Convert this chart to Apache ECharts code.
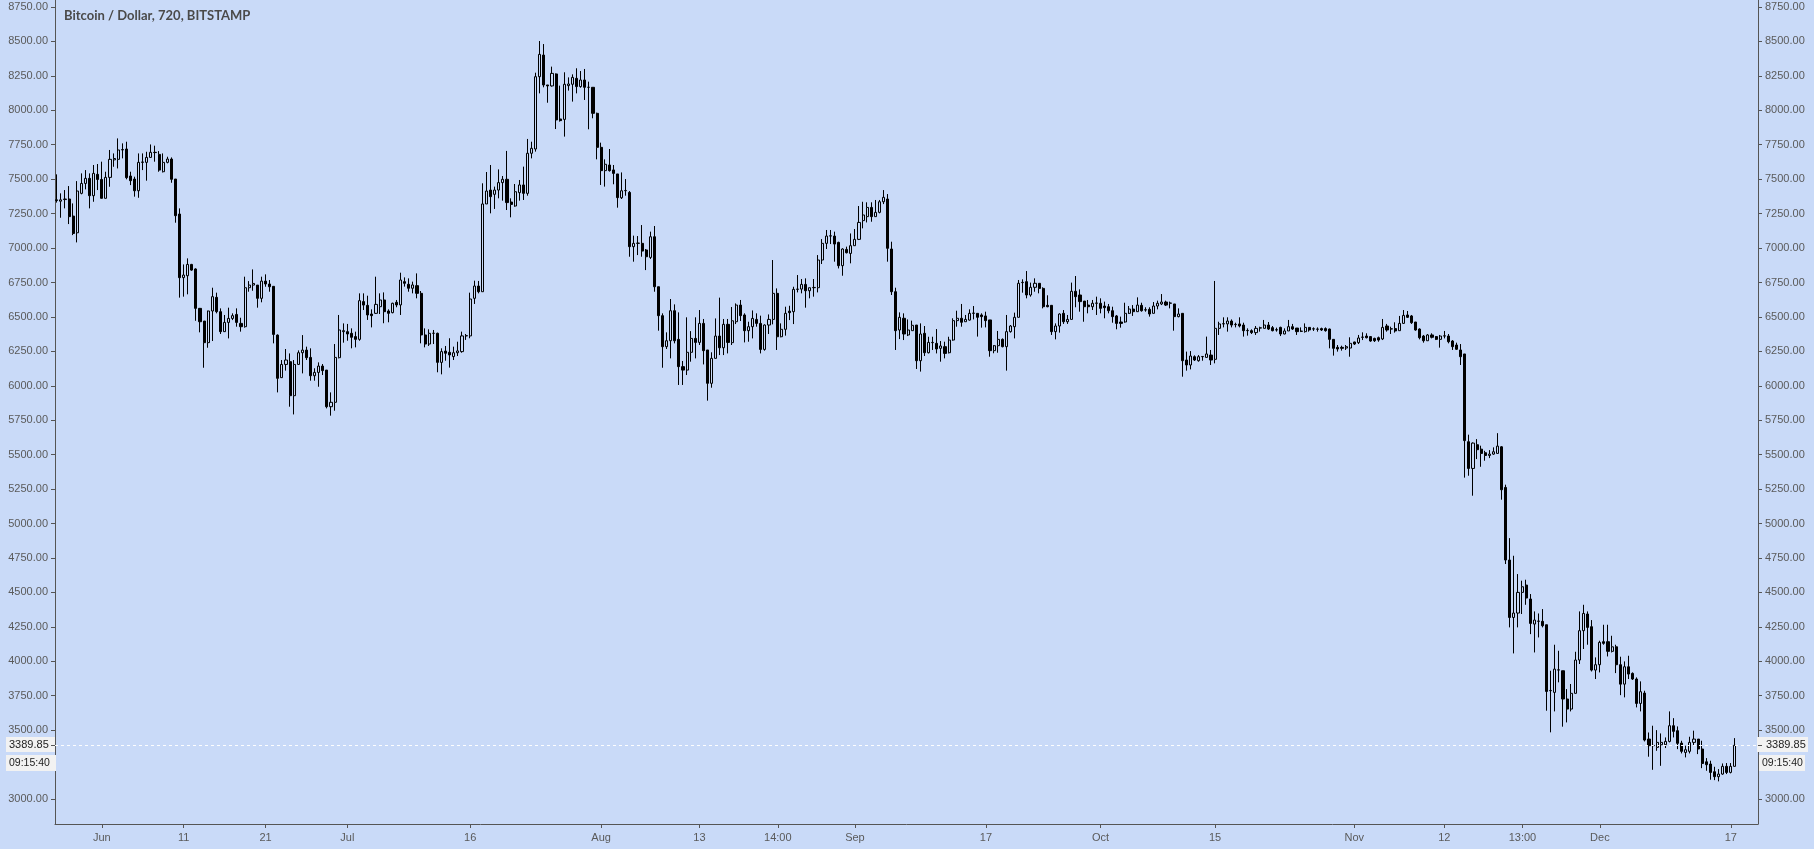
<!DOCTYPE html>
<html><head><meta charset="utf-8">
<script src="https://cdn.jsdelivr.net/npm/echarts@6/dist/echarts.min.js"></script>
<style>html,body{margin:0;padding:0;background:#c9daf8;}#c{width:1814px;height:849px;}</style>
</head><body><div id="c"></div>
<script>
const chartTitle = 'Bitcoin / Dollar, 720, BITSTAMP';
const startTime = Date.UTC(2018, 4, 26, 12);   // first 12h candle
const stepMs = 12 * 3600 * 1000;
const lastPrice = 3389.85;
const countdown = '09:15:40';

const opens = [
7350,7340,7352,7356,7232,7111,7397,7469,7506,7380,
7535,7498,7361,7513,7640,7644,7712,7719,7523,7501,
7416,7622,7622,7658,7695,7680,7554,7622,7646,7501,
7247,6785,6799,6881,6848,6562,6470,6313,6543,6642,
6538,6393,6460,6489,6518,6453,6429,6712,6731,6731,
6635,6760,6739,6722,6368,6059,6155,6175,5928,6155,
6240,6259,6206,6073,6097,6143,6114,5848,5880,6204,
6393,6393,6381,6357,6337,6611,6584,6521,6526,6574,
6623,6543,6531,6606,6587,6756,6737,6708,6727,6671,
6369,6303,6381,6381,6170,6252,6243,6212,6240,6248,
6362,6362,6635,6724,6683,7320,7421,7390,7421,7475,
7499,7334,7305,7402,7458,7397,7688,7719,8244,8401,
8184,8177,8264,7937,7934,8179,8189,8232,8172,8220,
8167,8167,7978,7731,7562,7603,7567,7538,7365,7416,
7404,7010,7034,7034,6986,6932,7082,6719,6509,6284,
6327,6545,6337,6139,6114,6243,6344,6315,6453,6260,
6018,6199,6361,6276,6446,6313,6465,6586,6514,6400,
6429,6482,6453,6264,6441,6482,6671,6356,6410,6542,
6538,6700,6702,6736,6690,6712,6712,6913,7034,7087,
7087,7041,6872,6990,6961,7017,7063,7199,7228,7295,
7228,7259,7336,7356,6993,6683,6405,6490,6369,6400,
6441,6182,6381,6240,6313,6308,6272,6284,6240,6332,
6473,6490,6465,6477,6526,6526,6514,6507,6478,6255,
6291,6337,6284,6393,6429,6497,6749,6756,6659,6715,
6744,6707,6584,6584,6393,6434,6526,6465,6482,6686,
6659,6615,6586,6574,6599,6599,6579,6574,6545,6507,
6463,6463,6526,6557,6538,6584,6550,6555,6526,6579,
6594,6608,6599,6594,6502,6526,6187,6151,6211,6182,
6211,6206,6223,6192,6417,6449,6449,6470,6444,6449,
6441,6400,6400,6386,6419,6417,6441,6422,6407,6424,
6376,6398,6429,6419,6395,6393,6424,6412,6410,6415,
6415,6412,6337,6279,6279,6274,6274,6318,6313,6352,
6361,6357,6344,6349,6340,6434,6412,6415,6400,6453,
6514,6507,6463,6412,6361,6327,6369,6357,6337,6361,
6361,6325,6296,6260,6231,5594,5400,5572,5540,5514,
5494,5504,5509,5557,5262,4735,4318,4350,4500,4553,
4452,4270,4290,4290,4265,3786,3774,3936,3931,3726,
3653,3767,4009,4222,4343,4251,3936,3975,4142,4142,
4072,4105,3975,3834,3960,3912,3871,3694,3769,3435,
3387,3375,3394,3394,3418,3532,3496,3406,3338,3346,
3411,3435,3363,3270,3254,3198,3162,3181,3237,3193,
3237];

const highs = [
7535,7397,7421,7450,7324,7486,7542,7566,7542,7603,
7610,7627,7554,7712,7687,7796,7760,7772,7554,7518,
7687,7687,7699,7752,7743,7704,7687,7663,7658,7501,
7288,6881,6925,6885,6853,6565,6470,6545,6712,6676,
6562,6514,6567,6526,6562,6494,6792,6760,6845,6731,
6792,6809,6768,6722,6373,6187,6267,6235,6187,6257,
6368,6284,6272,6127,6170,6158,6114,5952,6303,6514,
6453,6449,6417,6393,6671,6671,6654,6555,6792,6671,
6678,6555,6603,6623,6821,6787,6780,6756,6816,6688,
6417,6410,6405,6386,6272,6289,6345,6284,6320,6393,
6376,6676,6763,6761,7470,7552,7603,7446,7571,7523,
7705,7361,7465,7494,7591,7792,7772,8273,8503,8481,
8184,8317,8268,8179,8276,8239,8261,8305,8285,8300,
8208,8167,7983,7765,7644,7719,7603,7538,7549,7501,
7414,7090,7087,7167,6993,7119,7160,6719,6526,6388,
6630,6591,6533,6180,6497,6397,6497,6550,6485,6260,
6243,6489,6640,6485,6485,6572,6598,6623,6526,6465,
6547,6526,6509,6446,6518,6913,6707,6453,6574,6581,
6719,6804,6775,6780,6712,6775,6949,7065,7131,7131,
7119,7046,6998,7010,7106,7138,7305,7336,7332,7332,
7349,7349,7421,7392,7046,6712,6533,6526,6482,6473,
6441,6453,6434,6356,6356,6412,6325,6320,6356,6490,
6545,6594,6514,6555,6579,6526,6526,6538,6478,6296,
6398,6344,6514,6441,6531,6768,6773,6833,6749,6780,
6744,6715,6657,6586,6453,6526,6550,6514,6749,6797,
6700,6615,6623,6623,6647,6635,6611,6594,6574,6514,
6502,6603,6579,6586,6642,6603,6570,6570,6608,6618,
6666,6618,6611,6594,6562,6526,6248,6252,6221,6223,
6216,6357,6260,6761,6465,6497,6497,6482,6458,6497,
6458,6417,6410,6434,6429,6478,6463,6434,6422,6429,
6417,6478,6449,6419,6424,6453,6424,6424,6424,6422,
6424,6415,6337,6296,6291,6296,6352,6320,6369,6388,
6381,6361,6349,6357,6485,6449,6429,6461,6507,6550,
6543,6514,6463,6417,6369,6376,6381,6361,6369,6398,
6376,6332,6313,6303,6231,5645,5589,5613,5565,5528,
5533,5553,5656,5562,5282,4894,4766,4633,4585,4592,
4488,4362,4347,4379,4265,3931,4120,4076,3931,3798,
3835,4069,4362,4410,4362,4299,4028,4149,4265,4265,
4185,4120,4033,3999,4040,3919,3883,3854,3786,3483,
3532,3500,3476,3447,3636,3587,3527,3423,3387,3452,
3496,3435,3423,3297,3278,3234,3217,3258,3261,3261,
3442];

const lows = [
7330,7220,7288,7174,7094,7041,7390,7426,7288,7336,
7421,7361,7361,7445,7590,7578,7651,7499,7457,7373,
7365,7566,7489,7658,7627,7554,7549,7615,7474,7184,
6640,6647,6664,6835,6472,6388,6131,6276,6325,6526,
6376,6393,6344,6477,6429,6393,6422,6683,6690,6567,
6606,6719,6683,6308,5952,6059,6110,5848,5792,6151,
6090,6187,6037,6037,5993,6078,5836,5783,5819,6199,
6313,6327,6272,6279,6327,6550,6478,6424,6521,6521,
6454,6461,6526,6570,6514,6720,6683,6671,6635,6308,
6279,6289,6303,6098,6083,6182,6132,6187,6216,6240,
6333,6345,6594,6671,6683,7320,7252,7284,7361,7344,
7276,7223,7300,7344,7349,7380,7651,7700,8123,8167,
8055,8172,7864,7918,7809,8143,8063,8123,8164,8075,
7862,7942,7644,7458,7446,7555,7463,7293,7356,7380,
6937,6901,6949,6937,6840,6920,6683,6400,6131,6267,
6199,6308,6006,6006,6078,6175,6199,6296,6155,5892,
5986,6199,6223,6223,6235,6296,6448,6470,6315,6320,
6344,6429,6235,6255,6376,6446,6260,6352,6364,6477,
6448,6678,6671,6567,6635,6647,6678,6884,6993,7029,
6901,6852,6799,6961,6889,7017,7058,7143,7186,7191,
7228,7252,7319,6901,6659,6260,6339,6332,6361,6400,
6122,6103,6216,6235,6260,6235,6175,6199,6235,6327,
6429,6429,6465,6473,6482,6357,6422,6424,6211,6236,
6240,6279,6110,6386,6344,6497,6676,6635,6647,6683,
6671,6562,6570,6369,6337,6386,6449,6449,6482,6570,
6538,6465,6526,6550,6514,6526,6490,6526,6458,6410,
6422,6458,6521,6507,6538,6538,6538,6502,6526,6555,
6586,6579,6562,6400,6497,6066,6110,6119,6180,6175,
6182,6206,6151,6163,6369,6424,6393,6424,6424,6424,
6357,6364,6376,6369,6393,6417,6405,6395,6393,6361,
6374,6398,6405,6369,6390,6386,6393,6398,6393,6398,
6393,6272,6219,6248,6255,6260,6211,6296,6303,6332,
6344,6320,6318,6320,6332,6393,6376,6386,6400,6449,
6492,6449,6400,6337,6313,6327,6344,6332,6277,6344,
6308,6260,6260,6151,5333,5347,5202,5468,5412,5456,
5475,5499,5509,5173,4706,4246,4057,4246,4343,4410,
4197,4064,4173,4246,3641,3484,3636,3847,3525,3556,
3636,3767,3980,4089,4120,3926,3871,3919,4120,4035,
4064,3914,3754,3738,3871,3864,3665,3636,3418,3307,
3212,3350,3241,3370,3411,3447,3362,3331,3302,3331,
3387,3326,3224,3205,3140,3137,3128,3176,3181,3186,
3237];

const closes = [
7345,7350,7356,7228,7106,7414,7469,7506,7380,7542,
7498,7361,7513,7644,7650,7712,7715,7511,7489,7416,
7622,7625,7658,7695,7693,7566,7622,7646,7499,7235,
6785,6804,6881,6840,6562,6465,6313,6543,6647,6538,
6393,6460,6489,6509,6460,6429,6712,6731,6743,6635,
6760,6739,6719,6373,6054,6155,6187,5928,6155,6240,
6259,6204,6073,6097,6143,6110,5848,5880,6206,6405,
6400,6376,6352,6337,6618,6586,6514,6509,6591,6623,
6538,6526,6599,6587,6768,6744,6708,6732,6671,6369,
6303,6381,6381,6170,6248,6236,6224,6240,6253,6362,
6364,6630,6724,6683,7320,7414,7373,7421,7475,7499,
7330,7317,7409,7458,7397,7688,7724,8244,8406,8184,
8177,8268,7930,7925,8189,8191,8239,8172,8220,8167,
8167,7978,7731,7562,7608,7562,7542,7366,7416,7418,
7010,7034,7036,6978,6937,7082,6719,6509,6284,6327,
6545,6327,6139,6114,6243,6344,6315,6453,6255,6018,
6199,6361,6276,6446,6315,6472,6586,6509,6400,6429,
6489,6453,6264,6441,6482,6671,6356,6410,6526,6531,
6700,6702,6736,6690,6712,6714,6913,7034,7087,7089,
7029,6872,6993,6966,7017,7063,7186,7240,7295,7228,
7259,7336,7368,6998,6683,6400,6497,6376,6405,6439,
6182,6376,6240,6315,6315,6267,6289,6235,6332,6473,
6490,6461,6482,6526,6528,6497,6502,6473,6255,6291,
6337,6284,6393,6434,6497,6744,6751,6659,6715,6744,
6707,6574,6574,6393,6434,6521,6465,6482,6686,6647,
6611,6574,6574,6599,6601,6562,6567,6545,6502,6453,
6453,6526,6557,6538,6586,6545,6552,6521,6579,6599,
6608,6586,6601,6502,6521,6182,6151,6216,6187,6211,
6213,6231,6187,6417,6449,6451,6470,6441,6446,6434,
6400,6402,6386,6417,6421,6441,6412,6400,6405,6376,
6398,6429,6412,6393,6397,6424,6405,6414,6412,6405,
6400,6337,6272,6267,6272,6284,6308,6303,6347,6354,
6349,6325,6327,6332,6424,6405,6414,6398,6453,6511,
6497,6458,6405,6349,6327,6369,6352,6337,6361,6363,
6320,6284,6265,6211,5602,5400,5584,5536,5509,5494,
5504,5521,5562,5245,4735,4318,4350,4500,4541,4459,
4275,4299,4292,4258,3781,3788,3943,3938,3726,3653,
3767,4009,4222,4347,4246,3936,3975,4137,4130,4072,
4105,3975,3834,3960,3907,3871,3694,3779,3428,3387,
3389,3411,3411,3418,3532,3491,3404,3346,3358,3411,
3435,3363,3258,3249,3193,3162,3181,3237,3193,3237,
3389.85];

const yTicks = [3000,3250,3500,3750,4000,4250,4500,4750,5000,5250,5500,5750,
  6000,6250,6500,6750,7000,7250,7500,7750,8000,8250,8500,8750];

const xTickTimes = [
  Date.UTC(2018,5,1), Date.UTC(2018,5,11), Date.UTC(2018,5,21), Date.UTC(2018,6,1),
  Date.UTC(2018,6,16), Date.UTC(2018,7,1), Date.UTC(2018,7,13), Date.UTC(2018,7,22,14),
  Date.UTC(2018,8,1), Date.UTC(2018,8,17), Date.UTC(2018,9,1), Date.UTC(2018,9,15),
  Date.UTC(2018,10,1), Date.UTC(2018,10,12), Date.UTC(2018,10,21,13), Date.UTC(2018,11,1),
  Date.UTC(2018,11,17)];
const xTickLabels = ['Jun','11','21','Jul','16','Aug','13','14:00','Sep','17','Oct','15',
  'Nov','12','13:00','Dec','17'];

const DAY = 86400000;
const xMin = Date.UTC(2018,5,1) - 5.717 * DAY;
const xMax = Date.UTC(2018,5,1) + 202.32 * DAY;
const yMin = 2818.5, yMax = 8800.8;

const candles = opens.map((o, i) => [startTime + i * stepMs, o, closes[i], lows[i], highs[i]]);
const labelMap = {};
xTickTimes.forEach((t, i) => { labelMap[t] = xTickLabels[i]; });

const BG = '#c9daf8';
const AX = '#555555';
const FONT = "'Liberation Sans', Arial, sans-serif";
const yAxisBase = (pos) => ({
  type: 'value', position: pos, min: yMin, max: yMax,
  axisLine: { show: true, onZero: false, lineStyle: { color: AX, width: 1 } },
  axisTick: { show: true, length: 4, customValues: yTicks, lineStyle: { color: AX } },
  axisLabel: { customValues: yTicks, formatter: v => Number(v).toFixed(2), color: '#5a5a5a',
    fontSize: 11, fontFamily: FONT, margin: 7, showMinLabel: true, showMaxLabel: true },
  splitLine: { show: false }
});

const chart = echarts.init(document.getElementById('c'), null, { renderer: 'canvas' });
chart.setOption({
  backgroundColor: BG,
  animation: false,
  title: { text: chartTitle, left: 64, top: 9, padding: 0,
    textStyle: { fontSize: 13, fontWeight: 'bold', color: '#4a4a4a', fontFamily: 'Lato, sans-serif' } },
  grid: { left: 55, right: 56, top: 0, bottom: 25, containLabel: false },
  xAxis: {
    type: 'value', min: xMin, max: xMax,
    axisLine: { show: true, onZero: false, lineStyle: { color: AX, width: 1 } },
    axisTick: { show: true, length: 4, customValues: xTickTimes, lineStyle: { color: AX } },
    axisLabel: { customValues: xTickTimes, formatter: v => labelMap[v] || '', color: '#5a5a5a',
      fontSize: 11, fontFamily: FONT, margin: 8, showMinLabel: true, showMaxLabel: true,
      hideOverlap: false },
    splitLine: { show: false }
  },
  yAxis: [yAxisBase('left'), yAxisBase('right')],
  series: [{
    type: 'candlestick',
    data: candles,
    encode: { x: 0, y: [1, 2, 3, 4] },
    barWidth: 2.6,
    clip: true,
    itemStyle: { color: BG, color0: '#000', borderColor: '#000', borderColor0: '#000', borderWidth: 1 },
    emphasis: { disabled: true },
    markLine: {
      silent: true, symbol: 'none', animation: false,
      label: { show: false },
      lineStyle: { color: '#ffffff', type: [3, 3], width: 1, opacity: 0.95 },
      data: [{ yAxis: lastPrice }]
    }
  }]
});

const py = Math.round(chart.convertToPixel({ yAxisIndex: 0 }, lastPrice));
const boxFont = "11px 'Liberation Sans', Arial, sans-serif";
const cdFont = "10.5px 'Liberation Sans', Arial, sans-serif";
chart.setOption({
  graphic: [
    { type: 'rect', shape: { x: 6, y: py - 8, width: 49, height: 15 }, style: { fill: '#f2f2f2' }, z: 100 },
    { type: 'text', x: 9, y: py, style: { text: lastPrice.toFixed(2), font: boxFont, fill: '#222', verticalAlign: 'middle' }, z: 101 },
    { type: 'line', shape: { x1: 51, y1: py + 0.5, x2: 55, y2: py + 0.5 }, style: { stroke: '#555', lineWidth: 1 }, z: 101 },
    { type: 'rect', shape: { x: 6, y: py + 10, width: 50, height: 16 }, style: { fill: '#f2f2f2' }, z: 100 },
    { type: 'text', x: 9, y: py + 18, style: { text: countdown, font: cdFont, fill: '#222', verticalAlign: 'middle' }, z: 101 },
    { type: 'rect', shape: { x: 1757, y: py - 8, width: 51, height: 15 }, style: { fill: '#f2f2f2' }, z: 100 },
    { type: 'line', shape: { x1: 1758, y1: py + 0.5, x2: 1762, y2: py + 0.5 }, style: { stroke: '#555', lineWidth: 1 }, z: 101 },
    { type: 'text', x: 1766, y: py, style: { text: lastPrice.toFixed(2), font: boxFont, fill: '#222', verticalAlign: 'middle' }, z: 101 },
    { type: 'rect', shape: { x: 1759, y: py + 10, width: 46, height: 16 }, style: { fill: '#f2f2f2' }, z: 100 },
    { type: 'text', x: 1762, y: py + 18, style: { text: countdown, font: cdFont, fill: '#222', verticalAlign: 'middle' }, z: 101 }
  ]
});
</script></body></html>
